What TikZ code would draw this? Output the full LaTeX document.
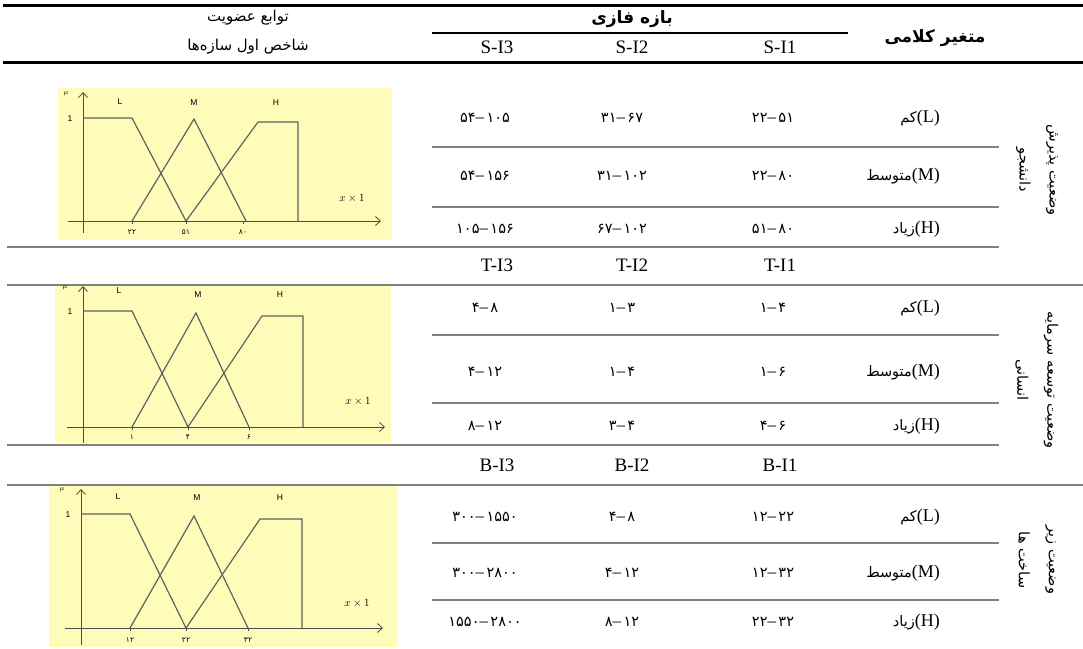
\documentclass[tikz,border=0pt]{standalone}
\usepackage{fontspec}
\setmainfont{Liberation Serif}
\newfontfamily\fa[Script=Arabic]{DejaVu Sans}
\newfontfamily\dashfont{Liberation Serif}
\newfontfamily\chartsans{Liberation Sans}
\TeXXeTstate=1
\usetikzlibrary{arrows.meta}
\newcommand\prange[2]{{\fa #1}{\dashfont\fontsize{17}{17}\selectfont –}\,{\fa #2}}
\newcommand\fw[1]{{\fa\fontsize{14.5}{17}\selectfont\beginR #1\endR}}
\tikzset{
  blackrule/.style={draw=black, line width=3pt},
  midrule/.style={draw=black, line width=2.4pt},
  grayrule/.style={draw=black!50, line width=1.4pt},
  fatxt/.style={font=\fa\fontsize{15}{18}\selectfont, inner sep=0pt},
  fahead/.style={font=\fa\bfseries\fontsize{17}{20}\selectfont, inner sep=0pt},
  numtxt/.style={font=\fa\fontsize{14.5}{17}\selectfont, inner sep=0pt},
  lattxt/.style={font=\fontsize{19}{21}\selectfont, inner sep=0pt},
  rowlab/.style={font=\fontsize{18}{21}\selectfont, inner sep=0pt, anchor=east},
  sidelab/.style={font=\fa\fontsize{14.5}{30}\selectfont, rotate=-90, align=center, inner sep=0pt},
  chartbg/.style={fill=yellow!28!white},
  axisline/.style={draw=black!70, line width=0.8pt, -{Straight Barb[length=5pt,width=9pt]}},
  mf/.style={draw=black!62, line width=1.2pt, line join=miter},
  tickmark/.style={draw=black!70, line width=0.6pt},
  chlab/.style={font=\chartsans\fontsize{8.5}{9}\selectfont, inner sep=0pt},
  mulab/.style={font=\itshape\fontsize{7.5}{8}\selectfont, inner sep=0pt},
  xlab/.style={font=\fontsize{10.5}{11}\selectfont, inner sep=0pt},
  ticklab/.style={font=\fa\fontsize{7.5}{8}\selectfont, inner sep=0pt},
}
\begin{document}
\begin{tikzpicture}[x=1pt,y=-1pt]
\useasboundingbox (0,0) rectangle (1083,648);
\fill[white] (0,0) rectangle (1083,648);

% ---------- header ----------
\coordinate (tl) at (3,5);   \coordinate (tr) at (1083,5);
\draw[blackrule] (tl) -- (tr);
\node[fatxt] (h1) at (248,18) {\beginR توابع عضویت\endR};
\node[fatxt] (h2) at (248,47) {\beginR شاخص اول سازه‌ها\endR};
\node[fahead] (hb) at (632,19) {\beginR بازه فازی\endR};
\coordinate (bl) at (432,33); \coordinate (br) at (848,33);
\draw[midrule] (bl) -- (br);
\node[fahead] (hv) at (935,38) {\beginR متغیر کلامی\endR};
\node[lattxt] (s3) at (497,47) {S-I3};
\node[lattxt] (s2) at (632,47) {S-I2};
\node[lattxt] (s1) at (780,47) {S-I1};
\coordinate (ml) at (3,62); \coordinate (mr) at (1083,62);
\draw[blackrule] (ml) -- (mr);

% ---------- gray rules ----------
\foreach \yy/\nm in {147/a,207/b,335/d,403/e,543/g,600/h}{
  \coordinate (g\nm l) at (432,\yy); \coordinate (g\nm r) at (999,\yy);
  \draw[grayrule] (g\nm l) -- (g\nm r);
}
\foreach \yy/\nm in {247/c,445/f}{
  \coordinate (g\nm l) at (7,\yy); \coordinate (g\nm r) at (999,\yy);
  \draw[grayrule] (g\nm l) -- (g\nm r);
}
\foreach \yy/\nm in {285/p,485/q}{
  \coordinate (f\nm l) at (7,\yy); \coordinate (f\nm r) at (1083,\yy);
  \draw[grayrule] (f\nm l) -- (f\nm r);
}

% ---------- section 1 ----------
\node[rowlab] (r1l) at (940,118) {\fw{کم}(L)};
\node[rowlab] (r1m) at (940,176) {\fw{متوسط}(M)};
\node[rowlab] (r1h) at (940,229) {\fw{زیاد}(H)};
\node[numtxt] (n11) at (485,118) {\prange{۵۴}{۱۰۵}};
\node[numtxt] (n12) at (622,118) {\prange{۳۱}{۶۷}};
\node[numtxt] (n13) at (773,118) {\prange{۲۲}{۵۱}};
\node[numtxt] (n21) at (485,176) {\prange{۵۴}{۱۵۶}};
\node[numtxt] (n22) at (622,176) {\prange{۳۱}{۱۰۲}};
\node[numtxt] (n23) at (773,176) {\prange{۲۲}{۸۰}};
\node[numtxt] (n31) at (485,229) {\prange{۱۰۵}{۱۵۶}};
\node[numtxt] (n32) at (622,229) {\prange{۶۷}{۱۰۲}};
\node[numtxt] (n33) at (773,229) {\prange{۵۱}{۸۰}};
\node[sidelab] (v1) at (1037,170) {\beginR وضعیت پذیرش\endR\\\beginR دانشجو\endR};

% ---------- section 2 ----------
\node[lattxt] (t3) at (497,265) {T-I3};
\node[lattxt] (t2) at (632,265) {T-I2};
\node[lattxt] (t1) at (780,265) {T-I1};
\node[rowlab] (r2l) at (940,308) {\fw{کم}(L)};
\node[rowlab] (r2m) at (940,372) {\fw{متوسط}(M)};
\node[rowlab] (r2h) at (940,426) {\fw{زیاد}(H)};
\node[numtxt] (m11) at (485,308) {\prange{۴}{۸}};
\node[numtxt] (m12) at (622,308) {\prange{۱}{۳}};
\node[numtxt] (m13) at (773,308) {\prange{۱}{۴}};
\node[numtxt] (m21) at (485,372) {\prange{۴}{۱۲}};
\node[numtxt] (m22) at (622,372) {\prange{۱}{۴}};
\node[numtxt] (m23) at (773,372) {\prange{۱}{۶}};
\node[numtxt] (m31) at (485,426) {\prange{۸}{۱۲}};
\node[numtxt] (m32) at (622,426) {\prange{۳}{۴}};
\node[numtxt] (m33) at (773,426) {\prange{۴}{۶}};
\node[sidelab] (v2) at (1037,380) {\beginR وضعیت توسعه سرمایه\endR\\\beginR انسانی\endR};

% ---------- section 3 ----------
\node[lattxt] (b3) at (497,465) {B-I3};
\node[lattxt] (b2) at (632,465) {B-I2};
\node[lattxt] (b1) at (780,465) {B-I1};
\node[rowlab] (r3l) at (940,517) {\fw{کم}(L)};
\node[rowlab] (r3m) at (940,573) {\fw{متوسط}(M)};
\node[rowlab] (r3h) at (940,622) {\fw{زیاد}(H)};
\node[numtxt] (k11) at (485,517) {\prange{۳۰۰}{۱۵۵۰}};
\node[numtxt] (k12) at (622,517) {\prange{۴}{۸}};
\node[numtxt] (k13) at (773,517) {\prange{۱۲}{۲۲}};
\node[numtxt] (k21) at (485,573) {\prange{۳۰۰}{۲۸۰۰}};
\node[numtxt] (k22) at (622,573) {\prange{۴}{۱۲}};
\node[numtxt] (k23) at (773,573) {\prange{۱۲}{۳۲}};
\node[numtxt] (k31) at (485,622) {\prange{۱۵۵۰}{۲۸۰۰}};
\node[numtxt] (k32) at (622,622) {\prange{۸}{۱۲}};
\node[numtxt] (k33) at (773,622) {\prange{۲۲}{۳۲}};
\node[sidelab] (v3) at (1037,560) {\beginR وضعیت زیر\endR\\\beginR ساخت ها\endR};

% ---------- chart 1 ----------
\fill[chartbg] (58,88) rectangle (392,240);
\coordinate (c1xa) at (68,221);  \coordinate (c1xb) at (381,221);
\coordinate (c1ya) at (83,233);  \coordinate (c1yb) at (83,92);
\draw[axisline] (c1xa) -- (c1xb);
\draw[axisline] (c1ya) -- (c1yb);
\draw[mf] (83,118) -- (132,118) -- (186,221);
\draw[mf] (132,221) -- (194,119) -- (246,221);
\draw[mf] (186,221) -- (258,122) -- (298,122) -- (298,221);
\foreach \xx in {132,186,243}{\draw[tickmark] (\xx,221) -- (\xx,224);}
\node[mulab] (c1mu) at (66,94) {$\mu$};
\node[chlab] (c1one) at (70,119) {1};
\node[chlab] (c1L) at (120,102) {L};
\node[chlab] (c1M) at (194,103) {M};
\node[chlab] (c1H) at (276,103) {H};
\node[xlab] (c1x) at (352,198) {$x\times 1$};
\node[ticklab] (c1t1) at (132,232) {۲۲};
\node[ticklab] (c1t2) at (186,232) {۵۱};
\node[ticklab] (c1t3) at (243,232) {۸۰};

% ---------- chart 2 ----------
\fill[chartbg] (55,286) rectangle (391,443);
\coordinate (c2xa) at (67,427);  \coordinate (c2xb) at (385,427);
\coordinate (c2ya) at (83,443);  \coordinate (c2yb) at (83,286);
\draw[axisline] (c2xa) -- (c2xb);
\draw[axisline] (c2ya) -- (c2yb);
\draw[mf] (83,311) -- (132,311) -- (188,427);
\draw[mf] (132,427) -- (196,313) -- (249,427);
\draw[mf] (188,427) -- (262,316) -- (303,316) -- (303,427);
\foreach \xx in {132,188,249}{\draw[tickmark] (\xx,427) -- (\xx,430);}
\node[mulab] (c2mu) at (65,288) {$\mu$};
\node[chlab] (c2one) at (70,312) {1};
\node[chlab] (c2L) at (119,291) {L};
\node[chlab] (c2M) at (198,295) {M};
\node[chlab] (c2H) at (280,295) {H};
\node[xlab] (c2x) at (358,401) {$x\times 1$};
\node[ticklab] (c2t1) at (132,437) {۱};
\node[ticklab] (c2t2) at (188,437) {۴};
\node[ticklab] (c2t3) at (249,437) {۶};

% ---------- chart 3 ----------
\fill[chartbg] (49,486) rectangle (397,647);
\coordinate (c3xa) at (65,628);  \coordinate (c3xb) at (383,628);
\coordinate (c3ya) at (81,645);  \coordinate (c3yb) at (81,489);
\draw[axisline] (c3xa) -- (c3xb);
\draw[axisline] (c3ya) -- (c3yb);
\draw[mf] (81,514) -- (130,514) -- (186,628);
\draw[mf] (130,628) -- (194,516) -- (248,628);
\draw[mf] (186,628) -- (260,519) -- (302,519) -- (302,628);
\foreach \xx in {130,186,248}{\draw[tickmark] (\xx,628) -- (\xx,631);}
\node[mulab] (c3mu) at (62,490) {$\mu$};
\node[chlab] (c3one) at (68,515) {1};
\node[chlab] (c3L) at (118,497) {L};
\node[chlab] (c3M) at (197,498) {M};
\node[chlab] (c3H) at (280,498) {H};
\node[xlab] (c3x) at (357,603) {$x\times 1$};
\node[ticklab] (c3t1) at (130,640) {۱۲};
\node[ticklab] (c3t2) at (186,640) {۲۲};
\node[ticklab] (c3t3) at (248,640) {۳۲};
\end{tikzpicture}
\end{document}
